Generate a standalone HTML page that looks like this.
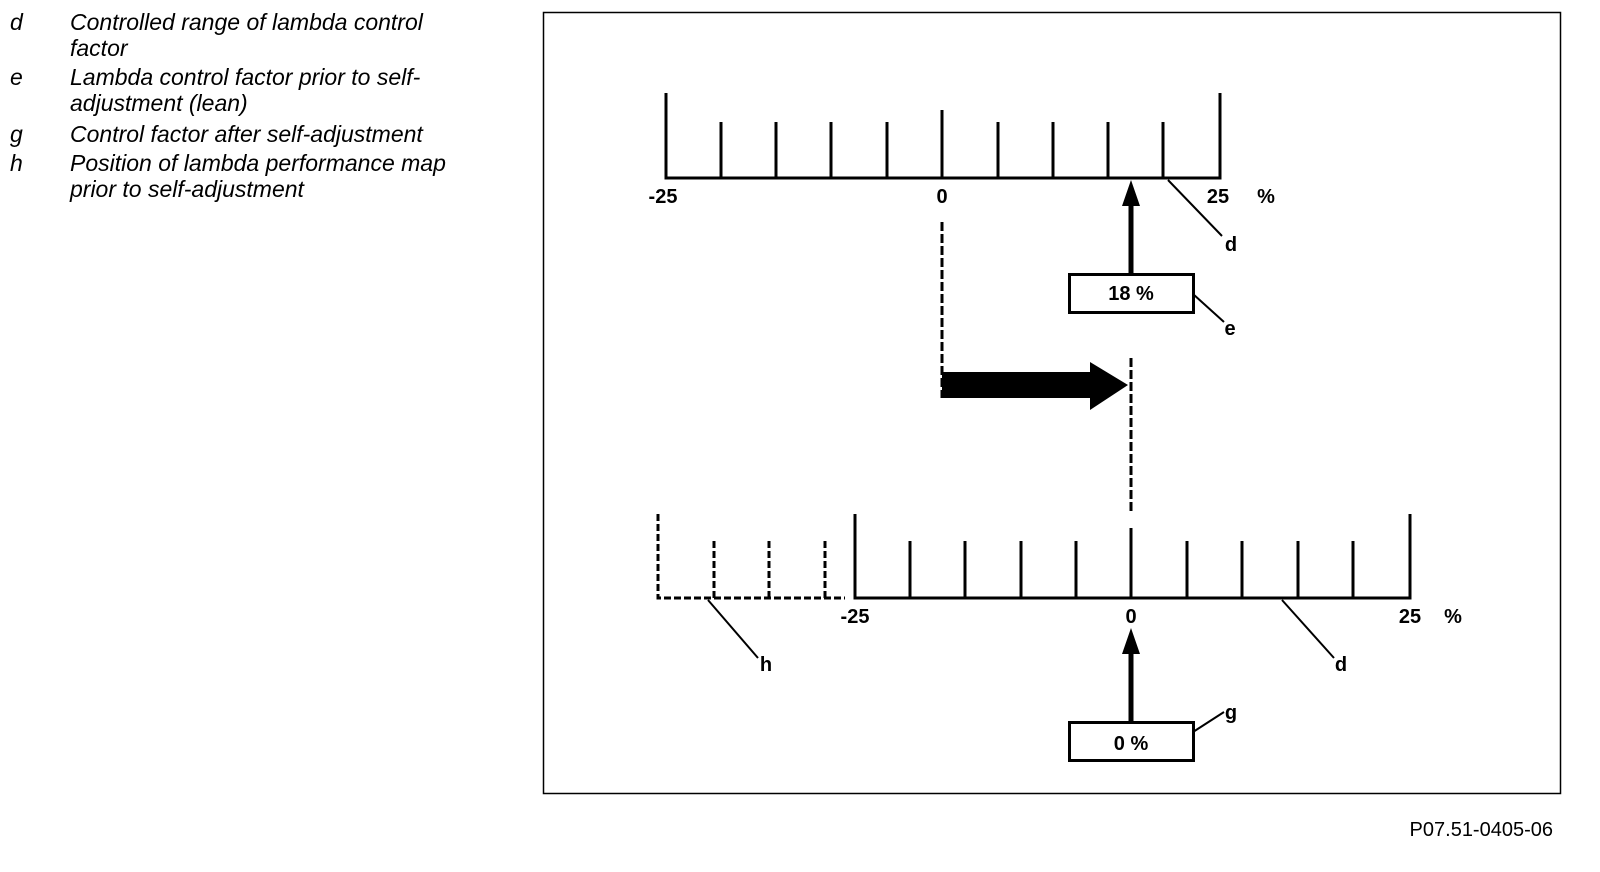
<!DOCTYPE html><html><head><style>
body{margin:0;width:1600px;height:872px;background:#fff;position:relative;font-family:"Liberation Sans",sans-serif;overflow:hidden}
.l{position:absolute;font-style:italic;font-size:23px;line-height:26px;color:#000;white-space:nowrap}
</style></head><body>
<div class="l" style="left:10px;top:9px">d</div><div class="l" style="left:70px;top:9px">Controlled range of lambda control<br>factor</div>
<div class="l" style="left:10px;top:64px">e</div><div class="l" style="left:70px;top:64px">Lambda control factor prior to self-<br>adjustment (lean)</div>
<div class="l" style="left:10px;top:121px">g</div><div class="l" style="left:70px;top:121px">Control factor after self-adjustment</div>
<div class="l" style="left:10px;top:150px">h</div><div class="l" style="left:70px;top:150px">Position of lambda performance map<br>prior to self-adjustment</div>
<svg width="1600" height="872" style="position:absolute;left:0;top:0" font-family="Liberation Sans, sans-serif">
<rect x="543.5" y="12.5" width="1017" height="781" fill="none" stroke="#000" stroke-width="1.5"/>
<g stroke="#000" stroke-width="3" fill="none">
<path d="M666 93V178H1220V93"/>
<path d="M721 122V178M776 122V178M831 122V178M887 122V178M942 110V178M998 122V178M1053 122V178M1108 122V178M1163 122V178"/>
<path d="M855 514V598H1410V514"/>
<path d="M910 541V598M965 541V598M1021 541V598M1076 541V598M1187 541V598M1242 541V598M1298 541V598M1353 541V598"/>
<path d="M1131 528V598"/>
<path d="M658 514V598H845M714 541V598M769 541V598M825 541V598" stroke-dasharray="7,3"/>
<path d="M942 222V398M1131 358V512" stroke-dasharray="9,3"/>
<path d="M1131 274V200M1131 722V650" stroke-width="5"/>
<rect x="1069.5" y="274.5" width="124" height="38"/>
<rect x="1069.5" y="722.5" width="124" height="38"/>
</g>
<g stroke="#000" stroke-width="2">
<path d="M1168 180L1222 236M1193 294L1224 322M708 600L758 658M1282 600L1334 658M1193 732L1224 712"/>
</g>
<path d="M1122 206L1131 180L1140 206ZM1122 654L1131 628L1140 654Z" fill="#000"/>
<path d="M942 372H1090V362L1128 385L1090 410V398H942Z" fill="#000"/>
<g font-weight="bold" font-size="20" text-anchor="middle">
<text x="663" y="203">-25</text><text x="942" y="203">0</text><text x="1218" y="203">25</text><text x="1266" y="203">%</text>
<text x="855" y="623">-25</text><text x="1131" y="623">0</text><text x="1410" y="623">25</text><text x="1453" y="623">%</text>
<text x="1131" y="300">18 %</text><text x="1131" y="750">0 %</text>
<text x="1231" y="251">d</text><text x="1230" y="335">e</text><text x="766" y="671">h</text><text x="1341" y="671">d</text><text x="1231" y="719">g</text>
</g>
<text x="1553" y="836" font-size="20" text-anchor="end">P07.51-0405-06</text>
</svg>
</body></html>
